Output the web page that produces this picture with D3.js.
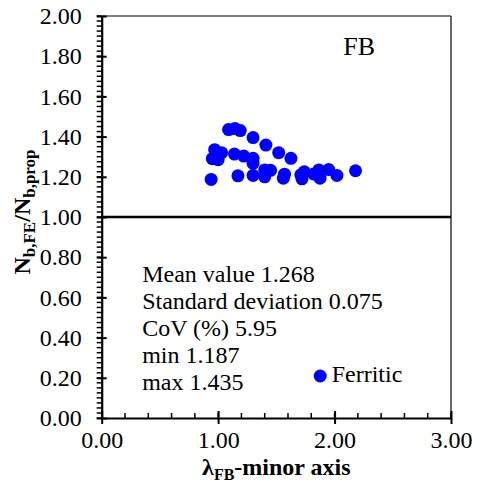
<!DOCTYPE html>
<html>
<head>
<meta charset="utf-8">
<script src="https://cdn.jsdelivr.net/npm/d3@7"></script>
<style>
	body { margin: 0; background: #fff; }
	svg text { font-family: 'Liberation Serif', 'Times New Roman', Times, serif !important; fill: #000; }
</style>
</head>
<body>
<div id="chart"></div>
<script>
// data
const lambdaFB = [0.94, 0.95, 0.97, 1.00, 1.03, 1.09, 1.145, 1.19, 1.14, 1.22, 1.30, 1.30, 1.30, 1.41, 1.52, 1.625,
	1.17, 1.30, 1.40, 1.45, 1.40, 1.57, 1.56, 1.71, 1.72, 1.74, 1.82, 1.865, 1.875, 1.95, 2.02, 2.18];
const ratioFE = [1.187, 1.29, 1.335, 1.285, 1.32, 1.435, 1.44, 1.43, 1.313, 1.303, 1.292, 1.267, 1.395, 1.358, 1.32, 1.292,
	1.205, 1.207, 1.234, 1.232, 1.20, 1.213, 1.193, 1.21, 1.19, 1.225, 1.214, 1.234, 1.193, 1.236, 1.207, 1.23];
const xTicks = [0, 1, 2, 3];
const yTicks = [0, 0.2, 0.4, 0.6, 0.8, 1.0, 1.2, 1.4, 1.6, 1.8, 2.0];
const statLines = ["Mean value 1.268", "Standard deviation 0.075", "CoV (%) 5.95", "min 1.187", "max 1.435"];
const seriesName = "Ferritic";
const panelLabel = "FB";

const serif = "'Liberation Serif', 'Times New Roman', Times, serif";
const data = lambdaFB.map((d, i) => ({x: d, y: ratioFE[i]}));

var svg = d3.select("#chart").append("svg").attr("width", 479).attr("height", 492);
var margin = {top: 16, right: 28, bottom: 74, left: 101.7};
var width = +svg.attr("width") - margin.left - margin.right;
var height = +svg.attr("height") - margin.top - margin.bottom;
var g = svg.append("g").attr("transform", "translate(" + margin.left + "," + margin.top + ")");

const x = d3.scaleLinear().domain([0, 3]).range([0, width]);
const y = d3.scaleLinear().domain([0, 2]).range([height, 0]);
const fmt = d3.format(".2f");

// frame top / right
g.append("line").attr("x1", 0).attr("x2", width).attr("y1", 0).attr("y2", 0)
	.attr("stroke", "#000").attr("stroke-width", 1.2);
g.append("line").attr("x1", width).attr("x2", width).attr("y1", 0).attr("y2", height)
	.attr("stroke", "#333").attr("stroke-width", 1.5);

// minor ticks
const yMinor = d3.range(0, 2.0001, 0.025);
g.append("g").selectAll("line").data(yMinor).enter().append("line")
	.attr("x1", -5).attr("x2", 0)
	.attr("y1", d => y(d)).attr("y2", d => y(d))
	.attr("stroke", "#000").attr("stroke-width", 1.5);
const xMinor = d3.range(0, 3.0001, 0.2);
g.append("g").selectAll("line").data(xMinor).enter().append("line")
	.attr("x1", d => x(d)).attr("x2", d => x(d))
	.attr("y1", height - 5).attr("y2", height)
	.attr("stroke", "#000").attr("stroke-width", 1.5);

// y axis
g.append("g")
	.attr("class", "y-axis")
	.call(d3.axisLeft(y).tickValues(yTicks).tickFormat(fmt).tickSizeOuter(0).tickSizeInner(5).tickPadding(15))
	.attr("font-family", serif)
	.call(a => a.select(".domain").attr("stroke-width", 2.2))
	.call(a => a.selectAll(".tick line").attr("x2", 5).attr("x1", -5).attr("stroke-width", 2))
	.call(a => a.selectAll(".tick text").attr("font-size", 24));

// x axis
g.append("g")
	.attr("transform", `translate(0,${height})`)
	.attr("class", "x-axis")
	.call(d3.axisBottom(x).tickValues(xTicks).tickFormat(fmt).tickSizeOuter(0).tickSizeInner(6).tickPadding(7))
	.attr("font-family", serif)
	.call(a => a.select(".domain").attr("stroke-width", 2.2))
	.call(a => a.selectAll(".tick line").attr("y1", -7).attr("y2", 6).attr("stroke-width", 2))
	.call(a => a.selectAll(".tick text").attr("font-size", 24));

// reference line at 1.0
g.append("line")
	.attr("x1", 0).attr("x2", width)
	.attr("y1", y(1)).attr("y2", y(1))
	.attr("stroke", "#000").attr("stroke-width", 2.6);

// points
g.append("g")
	.selectAll("circle")
	.data(data)
	.enter()
	.append("circle")
	.attr("cx", d => x(d.x))
	.attr("cy", d => y(d.y))
	.attr("r", 6.5)
	.attr("fill", "#0000ff");

// panel label
g.append("text")
	.attr("x", 241.5).attr("y", 39)
	.attr("font-size", 26)
	.text(panelLabel);

// statistics
g.append("g").selectAll("text").data(statLines).enter().append("text")
	.attr("x", 40.5)
	.attr("y", (d, i) => 266 + i * 27)
	.attr("font-size", 24)
	.text(d => d);

// legend
g.append("circle").attr("cx", 218.5).attr("cy", 360).attr("r", 6.5).attr("fill", "#0000ff");
g.append("text").attr("x", 230).attr("y", 366).attr("font-size", 24).text(seriesName);

// y axis title
const yTitle = svg.append("text")
	.attr("transform", "translate(30,212) rotate(-90)")
	.attr("text-anchor", "middle")
	.attr("font-size", 24)
	.attr("font-weight", "bold");
yTitle.append("tspan").text("N");
yTitle.append("tspan").attr("font-size", 17).attr("dy", 5).text("b,FE");
yTitle.append("tspan").attr("dy", -5).text("/N");
yTitle.append("tspan").attr("font-size", 17).attr("dy", 5).text("b,prop");

// x axis title
const xTitle = svg.append("text")
	.attr("x", margin.left + width / 2)
	.attr("y", 475)
	.attr("text-anchor", "middle")
	.attr("font-size", 24)
	.attr("font-weight", "bold");
xTitle.append("tspan").text("λ");
xTitle.append("tspan").attr("font-size", 16).attr("dy", 5).text("FB");
xTitle.append("tspan").attr("dy", -5).text("-minor axis");
</script>
</body>
</html>
